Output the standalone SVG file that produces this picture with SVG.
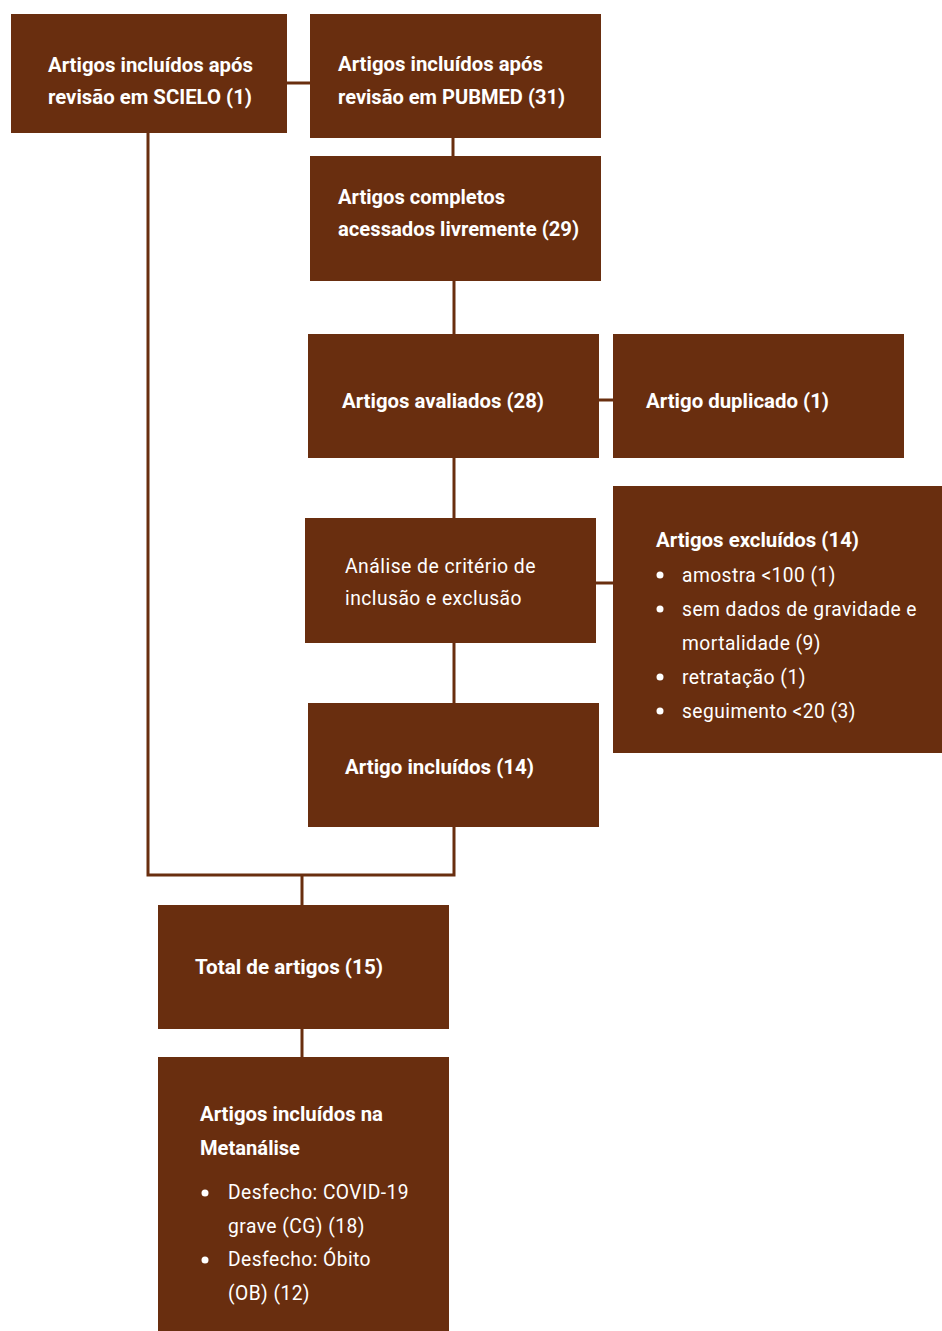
<svg xmlns="http://www.w3.org/2000/svg" width="942" height="1331" viewBox="0 0 942 1331">
<style>
.box{fill:#692E0F}
.ln{stroke:#692E0F;stroke-width:3;fill:none}
text{font-family:Roboto,"Liberation Sans",sans-serif;font-size:21px;fill:#ffffff}
.b{font-weight:bold}
.r{font-weight:normal;letter-spacing:0.5px}
.dot{fill:#ffffff}
</style>
<rect width="942" height="1331" fill="#ffffff"/>
<g id="connectors">
<line class="ln" x1="287" y1="83" x2="310" y2="83"/>
<line class="ln" x1="453" y1="138" x2="453" y2="156"/>
<line class="ln" x1="454" y1="281" x2="454" y2="334"/>
<line class="ln" x1="599" y1="400" x2="613" y2="400"/>
<line class="ln" x1="454" y1="458" x2="454" y2="518"/>
<line class="ln" x1="596" y1="583" x2="613" y2="583"/>
<line class="ln" x1="454" y1="643" x2="454" y2="703"/>
<polyline class="ln" points="148,133 148,875 454,875 454,827"/>
<line class="ln" x1="302" y1="875" x2="302" y2="905"/>
<line class="ln" x1="302" y1="1029" x2="302" y2="1057"/>
</g>
<g id="scielo">
<rect class="box" x="11" y="14" width="276" height="119"/>
<text class="b" x="48" y="72" textLength="205" lengthAdjust="spacingAndGlyphs">Artigos incluídos após</text>
<text class="b" x="48" y="104" textLength="204" lengthAdjust="spacingAndGlyphs">revisão em SCIELO (1)</text>
</g>
<g id="pubmed">
<rect class="box" x="310" y="14" width="291" height="124"/>
<text class="b" x="338" y="71" textLength="205" lengthAdjust="spacingAndGlyphs">Artigos incluídos após</text>
<text class="b" x="338" y="104" textLength="227" lengthAdjust="spacingAndGlyphs">revisão em PUBMED (31)</text>
</g>
<g id="completos">
<rect class="box" x="310" y="156" width="291" height="125"/>
<text class="b" x="338" y="204" textLength="167" lengthAdjust="spacingAndGlyphs">Artigos completos</text>
<text class="b" x="338" y="236" textLength="241" lengthAdjust="spacingAndGlyphs">acessados livremente (29)</text>
</g>
<g id="avaliados">
<rect class="box" x="308" y="334" width="291" height="124"/>
<text class="b" x="342" y="408" textLength="202" lengthAdjust="spacingAndGlyphs">Artigos avaliados (28)</text>
</g>
<g id="duplicado">
<rect class="box" x="613" y="334" width="291" height="124"/>
<text class="b" x="646" y="408" textLength="183" lengthAdjust="spacingAndGlyphs">Artigo duplicado (1)</text>
</g>
<g id="analise">
<rect class="box" x="305" y="518" width="291" height="125"/>
<text class="r" x="345" y="573" textLength="191" lengthAdjust="spacingAndGlyphs">Análise de critério de</text>
<text class="r" x="345" y="605" textLength="177" lengthAdjust="spacingAndGlyphs">inclusão e exclusão</text>
</g>
<g id="excluidos">
<rect class="box" x="613" y="486" width="329" height="267"/>
<text class="b" x="656" y="547" textLength="203" lengthAdjust="spacingAndGlyphs">Artigos excluídos (14)</text>
<circle class="dot" cx="660" cy="575" r="3.5"/>
<text class="r" x="682" y="582" textLength="154" lengthAdjust="spacingAndGlyphs">amostra &lt;100 (1)</text>
<circle class="dot" cx="660" cy="609" r="3.5"/>
<text class="r" x="682" y="616" textLength="235" lengthAdjust="spacingAndGlyphs">sem dados de gravidade e</text>
<text class="r" x="682" y="650" textLength="139" lengthAdjust="spacingAndGlyphs">mortalidade (9)</text>
<circle class="dot" cx="660" cy="677" r="3.5"/>
<text class="r" x="682" y="684" textLength="124" lengthAdjust="spacingAndGlyphs">retratação (1)</text>
<circle class="dot" cx="660" cy="711" r="3.5"/>
<text class="r" x="682" y="718" textLength="174" lengthAdjust="spacingAndGlyphs">seguimento &lt;20 (3)</text>
</g>
<g id="incluidos">
<rect class="box" x="308" y="703" width="291" height="124"/>
<text class="b" x="345" y="774" textLength="189" lengthAdjust="spacingAndGlyphs">Artigo incluídos (14)</text>
</g>
<g id="total">
<rect class="box" x="158" y="905" width="291" height="124"/>
<text class="b" x="195" y="974" textLength="188" lengthAdjust="spacingAndGlyphs">Total de artigos (15)</text>
</g>
<g id="metanalise">
<rect class="box" x="158" y="1057" width="291" height="274"/>
<text class="b" x="200" y="1121" textLength="183" lengthAdjust="spacingAndGlyphs">Artigos incluídos na</text>
<text class="b" x="200" y="1155" textLength="100" lengthAdjust="spacingAndGlyphs">Metanálise</text>
<circle class="dot" cx="205" cy="1193" r="3.5"/>
<text class="r" x="228" y="1199" textLength="181" lengthAdjust="spacingAndGlyphs">Desfecho: COVID-19</text>
<text class="r" x="228" y="1233" textLength="137" lengthAdjust="spacingAndGlyphs">grave (CG) (18)</text>
<circle class="dot" cx="205" cy="1260" r="3.5"/>
<text class="r" x="228" y="1266" textLength="143" lengthAdjust="spacingAndGlyphs">Desfecho: Óbito</text>
<text class="r" x="228" y="1300" textLength="82" lengthAdjust="spacingAndGlyphs">(OB) (12)</text>
</g>
</svg>
